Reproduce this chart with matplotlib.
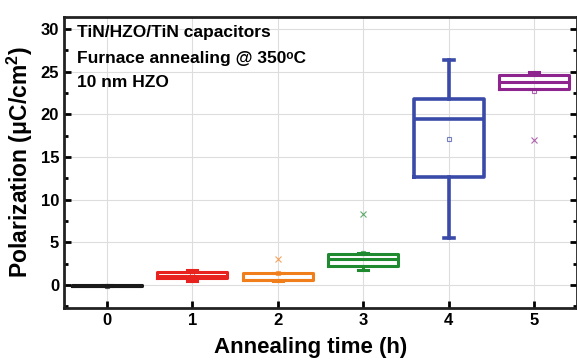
import matplotlib
matplotlib.use("Agg")
import matplotlib.pyplot as plt
from matplotlib.ticker import MultipleLocator

plt.rcParams['font.family'] = ['Liberation Sans', 'DejaVu Sans']
plt.rcParams['font.weight'] = 'bold'
plt.rcParams['mathtext.fontset'] = 'custom'
plt.rcParams['mathtext.rm'] = 'Liberation Sans:bold'
plt.rcParams['mathtext.bf'] = 'Liberation Sans:bold'

times = [0, 1, 2, 3, 4, 5]
whislo = [-0.15, 0.45, 0.45, 1.8, 5.5, 23.0]
q1 = [-0.15, 0.85, 0.55, 2.2, 12.6, 23.0]
med = [-0.1, 1.1, 0.6, 3.0, 19.4, 23.8]
q3 = [-0.05, 1.5, 1.35, 3.6, 21.8, 24.6]
whishi = [-0.05, 1.7, 1.4, 3.7, 26.4, 25.0]
means = [-0.1, 1.3, 1.4, 3.8, 17.1, 22.7]
outliers = [[], [], [3.0], [8.3], [], [17.0]]
colors = ['#1a1a1a', '#e8231f', '#f07e1b', '#1f8a2f', '#3a4aa8', '#8e248e']
info_lines = ['TiN/HZO/TiN capacitors', 'Furnace annealing @ 350ᵒC', '10 nm HZO']

fig = plt.figure(figsize=(5.77, 3.61), dpi=100)
ax = fig.add_axes([64/577, 1 - 308/361, 513/577, 291/361])

for i, t in enumerate(times):
    st = dict(whislo=whislo[i], q1=q1[i], med=med[i], q3=q3[i], whishi=whishi[i],
              mean=means[i], fliers=outliers[i])
    c = colors[i]
    lw = 2.6 if i == 4 else 2.2
    ax.bxp([st], positions=[t], widths=0.82, showmeans=True, showcaps=True,
           boxprops=dict(color=c, linewidth=lw),
           medianprops=dict(color=c, linewidth=lw),
           whiskerprops=dict(color=c, linewidth=lw),
           capprops=dict(color=c, linewidth=lw),
           capwidths=0.12,
           meanprops=dict(marker='s', markersize=3.5, markerfacecolor='none',
                          markeredgecolor=c, markeredgewidth=0.8, alpha=0.7),
           flierprops=dict(marker='x', markersize=4, markeredgecolor=c,
                           markeredgewidth=0.8, alpha=0.7))

ax.set_xlim(-0.5, 5.5)
ax.set_ylim(-2.7, 31.4)
ax.set_xticks(times)
ax.set_xticklabels([str(t) for t in times])
ax.yaxis.set_major_locator(MultipleLocator(5))
ax.yaxis.set_minor_locator(MultipleLocator(2.5))
ax.grid(True, which='major', color='#dddddd', linewidth=0.8)
ax.set_axisbelow(True)
ax.tick_params(axis='both', which='both', direction='in', width=2, labelsize=12,
               right=True, top=False)
ax.tick_params(axis='both', which='major', length=5)
ax.tick_params(axis='y', which='minor', length=3)
for lbl in ax.get_xticklabels() + ax.get_yticklabels():
    lbl.set_fontweight('bold')
for s in ax.spines.values():
    s.set_linewidth(2)
    s.set_color('#222222')

ax.set_xlabel('Annealing time (h)', fontsize=16, fontweight='bold')
ax.xaxis.set_label_coords(0.481, -0.10)
ax.set_ylabel('Polarization (μC/cm$^{2}$)', fontsize=16.5, fontweight='bold', labelpad=4)

for k, (txt, yb) in enumerate(zip(info_lines, [0.931, 0.842, 0.759])):
    ax.text(0.025, yb, txt, transform=ax.transAxes,
            fontsize=12.5, fontweight='bold', va='baseline')

fig.savefig('out.png', dpi=100)
